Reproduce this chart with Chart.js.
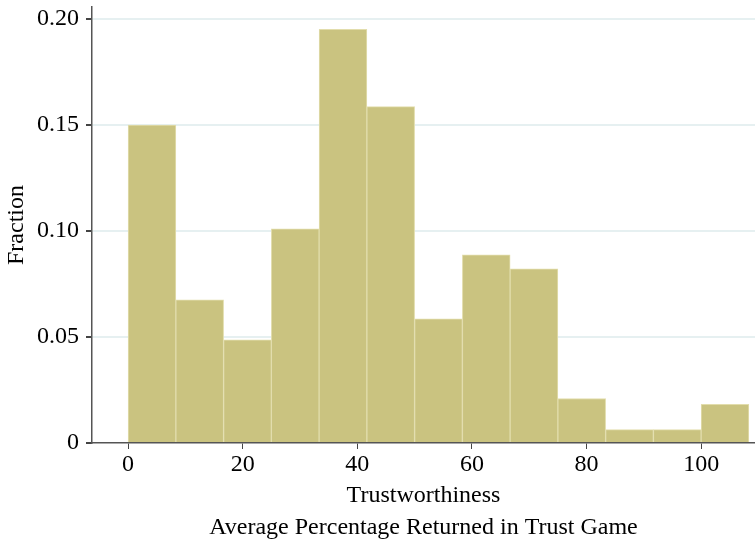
<!DOCTYPE html>
<html>
<head>
<meta charset="utf-8">
<script src="https://cdn.jsdelivr.net/npm/chart.js@4"></script>
<style>
  html, body { margin: 0; padding: 0; background: #ffffff; }
  #wrap { width: 755px; height: 545px; position: relative; }
</style>
</head>
<body>
<div id="wrap"><canvas id="c" width="755" height="545"></canvas></div>
<script>
// Histogram bins (left edges, bin width 100/12)
const binWidth = 100 / 12;
const binStarts = [0, 8.333, 16.667, 25, 33.333, 41.667, 50, 58.333, 66.667, 75, 83.333, 91.667, 100];
const fractions = [0.150, 0.0675, 0.0487, 0.101, 0.1952, 0.1587, 0.0586, 0.0888, 0.0822, 0.0210, 0.0063, 0.0063, 0.0182];
const xTicks = [0, 20, 40, 60, 80, 100];
const yTicks = [0, 0.05, 0.10, 0.15, 0.20];
const yTickLabels = ['0', '0.05', '0.10', '0.15', '0.20'];
const xTitle = ['Trustworthiness', 'Average Percentage Returned in Trust Game'];
const yTitle = 'Fraction';

const points = binStarts.map((s, i) => ({ x: s + binWidth / 2, y: fractions[i] }));

const serif = "'Liberation Serif', 'DejaVu Serif', serif";

new Chart(document.getElementById('c'), {
  type: 'bar',
  data: {
    datasets: [{
      data: points,
      backgroundColor: 'rgb(202,195,128)',
      borderColor: 'rgb(226,221,172)',
      borderWidth: 1,
      borderSkipped: 'bottom',
      barPercentage: 1.0,
      categoryPercentage: 1.0
    }]
  },
  options: {
    responsive: false,
    animation: false,
    devicePixelRatio: 1,
    layout: { padding: { top: 7, right: 0, left: 0, bottom: 0 } },
    plugins: { legend: { display: false }, tooltip: { enabled: false } },
    scales: {
      x: {
        type: 'linear',
        offset: false,
        min: -6.3,
        max: 109.4,
        afterBuildTicks: (scale) => { scale.ticks = xTicks.map(v => ({ value: v })); },
        afterFit: (scale) => { scale.height = 102; scale.paddingLeft = 0; scale.paddingRight = 0; },
        ticks: {
          color: '#000',
          font: { family: serif, size: 24 },
          padding: 1,
          maxRotation: 0,
          autoSkip: false,
          callback: (v) => String(v)
        },
        grid: { display: true, offset: false, drawOnChartArea: false, drawTicks: true, tickLength: 6, color: '#444' },
        border: { display: true, color: '#555', width: 1.5 },
        title: {
          display: true,
          text: xTitle,
          color: '#000',
          font: { family: serif, size: 24, lineHeight: 1.35 },
          padding: { top: 0, bottom: 1 }
        }
      },
      y: {
        type: 'linear',
        min: 0,
        max: 0.2057,
        afterBuildTicks: (scale) => { scale.ticks = yTicks.map(v => ({ value: v })); },
        afterFit: (scale) => { scale.width = 92; scale.paddingTop = 0; scale.paddingBottom = 0; },
        ticks: {
          color: '#000',
          font: { family: serif, size: 24 },
          padding: 7,
          autoSkip: false,
          callback: (v, i) => yTickLabels[i]
        },
        grid: {
          display: true,
          drawTicks: true,
          tickLength: 6,
          color: (ctx) => (ctx.tick && ctx.tick.value === 0) ? 'rgba(0,0,0,0)' : '#e6f0f1',
          tickColor: '#444',
          lineWidth: 2
        },
        border: { display: true, color: '#555', width: 1.5 },
        title: {
          display: true,
          text: yTitle,
          color: '#000',
          font: { family: serif, size: 24 },
          padding: { top: 2, bottom: 0 }
        }
      }
    }
  }
});
</script>
</body>
</html>
